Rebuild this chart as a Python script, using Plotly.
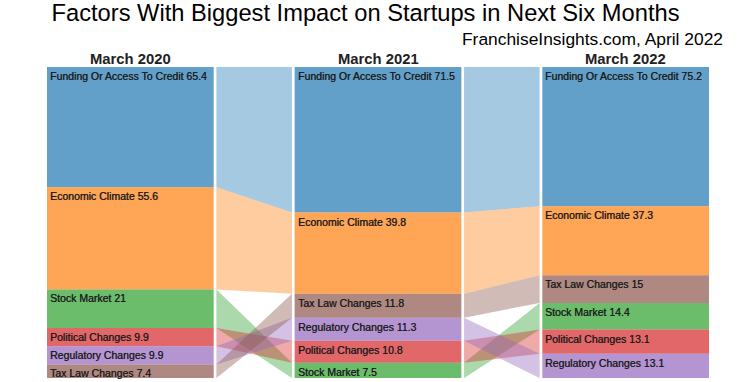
import plotly.graph_objects as go

# ---- data ----
categories = ["Funding Or Access To Credit", "Economic Climate", "Stock Market",
              "Political Changes", "Regulatory Changes", "Tax Law Changes"]
periods = ["March 2020", "March 2021", "March 2022"]
values_2020 = [65.4, 55.6, 21, 9.9, 9.9, 7.4]
values_2021 = [71.5, 39.8, 7.5, 10.8, 11.3, 11.8]
values_2022 = [75.2, 37.3, 14.4, 13.1, 13.1, 15]
base_rgb = [(31, 119, 180), (255, 127, 14), (44, 160, 44),
            (214, 39, 40), (148, 103, 189), (140, 86, 75)]

columns = [values_2020, values_2021, values_2022]
BW = 0.673      # bar width (x units)
GAP = 0.011     # white gap between bar and ribbon

# compute normalized stacks (sorted descending, largest on top)
tops = []
hts = []
for vals in columns:
    total = sum(vals)
    order = sorted(range(len(vals)), key=lambda k: -vals[k])
    t = [0] * len(vals)
    h = [0] * len(vals)
    acc = 0.0
    for k in order:
        t[k] = acc
        h[k] = vals[k] / total * 100
        acc += h[k]
    tops.append(t)
    hts.append(h)

fig = go.Figure()

# ribbons
for c in range(len(columns) - 1):
    x0 = c + BW / 2 + GAP
    x1 = c + 1 - BW / 2 - GAP
    for k, cat in enumerate(categories):
        ya0, ya1 = tops[c][k], tops[c][k] + hts[c][k]
        yb0, yb1 = tops[c + 1][k], tops[c + 1][k] + hts[c + 1][k]
        r, g, b = base_rgb[k]
        fig.add_trace(go.Scatter(
            x=[x0, x1, x1, x0, x0], y=[ya0, yb0, yb1, ya1, ya0],
            mode="lines", fill="toself", line=dict(width=0),
            fillcolor=f"rgba({r},{g},{b},0.4)", hoverinfo="skip", showlegend=False))

# bars
for k, cat in enumerate(categories):
    r, g, b = base_rgb[k]
    fig.add_trace(go.Bar(
        x=list(range(len(columns))), y=[hts[c][k] for c in range(len(columns))],
        base=[tops[c][k] for c in range(len(columns))], width=BW,
        marker=dict(color=f"rgba({r},{g},{b},0.7)", line=dict(width=0)),
        name=cat, showlegend=False,
        customdata=[columns[c][k] for c in range(len(columns))],
        hovertemplate=cat + ": %{customdata}<extra></extra>"))

annotations = []
for c in range(len(columns)):
    for k, cat in enumerate(categories):
        annotations.append(dict(
            x=c - BW / 2, y=tops[c][k], xref="x", yref="y",
            xanchor="left", yanchor="top", xshift=1, yshift=-1,
            text=f"{cat} {columns[c][k]:g}", showarrow=False,
            font=dict(family="Liberation Sans, Arial", size=10.5, color="#1a1a1a",
                      shadow="0.4px 0 0 rgba(30,30,30,0.8)")))
    annotations.append(dict(
        x=c, y=0, xref="x", yref="y", xanchor="center", yanchor="bottom",
        yshift=-2, text=f"<b>{periods[c]}</b>", showarrow=False,
        font=dict(family="Liberation Sans, Arial", size=14.8, color="#222")))

W, H = 756, 382
ML, MR, MT, MB = 47, 47, 67, 4
plot_w, plot_h = W - ML - MR, H - MT - MB

annotations.append(dict(
    x=(725 - ML) / plot_w, y=(H - MB - 39) / plot_h, xref="paper", yref="paper",
    text="FranchiseInsights.com, April 2022",
    showarrow=False, xanchor="right", yanchor="middle",
    font=dict(family="Liberation Sans, Arial", size=17.4, color="#000")))

fig.update_layout(
    width=W, height=H,
    margin=dict(l=ML, r=MR, t=MT, b=MB, autoexpand=False),
    paper_bgcolor="white", plot_bgcolor="white",
    barmode="overlay",
    title=dict(text="Factors With Biggest Impact on Startups in Next Six Months",
               x=365.5 / W, xanchor="center", xref="container",
               y=1 - 4.7 / H, yanchor="top", yref="container",
               font=dict(family="Liberation Sans, Arial", size=23.7, color="#000")),
    xaxis=dict(range=[-BW / 2, len(columns) - 1 + BW / 2], visible=False, fixedrange=True),
    yaxis=dict(range=[100, 0], visible=False, fixedrange=True),
    annotations=annotations,
)

fig.write_html("out.html", config={"displayModeBar": False},
               post_script="document.body.style.margin='0';")
